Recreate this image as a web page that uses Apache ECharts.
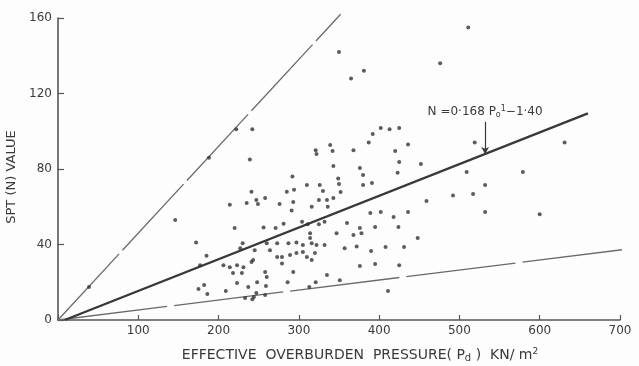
<!DOCTYPE html>
<html>
<head>
<meta charset="utf-8">
<script src="https://cdn.jsdelivr.net/npm/echarts@6/dist/echarts.min.js"></script>
<style>
  html, body { margin: 0; padding: 0; background: #fdfdfd; }
  #chart { width: 639px; height: 366px; }
</style>
</head>
<body>
<div id="chart"></div>
<script>
// Effective overburden pressure (kN/m2) of each test
const pressure = [
  222, 242, 188, 239, 146, 321, 322, 292, 241, 285, 294, 310, 326, 330,
  214, 235, 247, 249, 258, 276, 293, 291, 316, 325, 335,
  220, 256, 271, 281, 304, 311, 325, 332,
  172, 185, 177, 230, 227, 245, 260, 273, 287, 297, 305, 314, 314, 316, 322, 332,
  241, 243, 264, 273, 279, 279, 289, 297, 305, 310, 316, 320,
  206, 214, 223, 231, 218, 229, 258, 260, 293, 335,
  182, 175, 186, 209, 223, 237, 248, 247, 244, 242, 258, 259, 286, 313, 321, 233,
  38.6,
  511, 350, 476, 381, 365, 402, 413, 425, 392, 387, 436, 519, 339, 342, 368, 420,
  343, 376, 425, 452, 380, 423, 509, 579, 349, 350, 380, 391, 532, 352, 343, 336,
  459, 492, 517, 532, 600, 389, 402, 418, 436, 360, 376, 395, 424, 347, 368, 378, 631,
  357, 372, 390, 408, 431, 376, 395, 425, 351, 411, 448
];
// Measured SPT blow count N of each test
const sptN = [
  101, 101, 86, 85, 53, 90, 88, 76, 68, 68, 69, 71.5, 71.5, 68.3,
  61, 62, 63.6, 61.5, 64.6, 61.5, 62.5, 58, 60, 63.6, 63.6,
  48.7, 49, 48.7, 51, 52, 50.7, 50.7, 52,
  41, 34, 29, 40.7, 38, 37, 40.7, 40.7, 40.7, 41, 39.7, 46, 43.4, 40.7, 39.7, 39.7,
  30.7, 31.8, 37, 33.4, 33.4, 30, 34.4, 35.5, 36, 33.4, 31.8, 35.5,
  29, 28, 29, 28, 24.9, 24.9, 25.4, 22.8, 25.4, 23.8,
  18.5, 16.4, 13.8, 15.4, 19.6, 17.5, 20, 14.3, 12.2, 11, 13.2, 18, 20, 17.5, 20, 11.6,
  17.5,
  155, 142, 136, 132, 128, 101.7, 101, 101.7, 98.5, 94, 93, 94, 92.7, 89.5, 90, 89.5,
  81.6, 80.5, 83.7, 82.6, 76.8, 78, 78.4, 78.4, 75, 72, 71.5, 72.6, 71.5, 67.8, 64.6, 60,
  63, 66, 66.8, 57.2, 56, 56.7, 57.2, 54.6, 57.2, 51.4, 48.7, 49.3, 49.3, 46, 45, 46, 94,
  38, 39, 36.6, 38.7, 38.7, 28.6, 29.7, 29, 21, 15.4, 43.4
];

// Regression through the data: N = 0.168 P - 1.40
const regSlope = 0.168;
const regIntercept = -1.40;
const regRange = [8.3, 660];

// Upper and lower envelope lines
const upperEnvelope = [[0, 0], [352, 162]];
const lowerEnvelope = [[0, 0], [725, 38.4]];

// Axis ticks
const xTicks = [0, 100, 200, 300, 400, 500, 600, 700];
const yTicks = [0, 40, 80, 120, 160];

// Arrow from the equation down to the regression line
const arrowX = 532;
const arrowTop = 105;

const points = pressure.map((p, i) => [p, sptN[i]]);
const regLine = regRange.map(p => [p, regSlope * p + regIntercept]);

const ink = '#3a3a3a';
const font = 'DejaVu Sans';

const chart = echarts.init(document.getElementById('chart'), null, { renderer: 'canvas' });

chart.setOption({
  backgroundColor: '#fdfdfd',
  animation: false,
  grid: { left: 58, right: 19, top: 18, bottom: 46, containLabel: false, outerBoundsMode: 'none' },
  xAxis: {
    type: 'value',
    min: xTicks[0],
    max: xTicks[xTicks.length - 1],
    interval: 100,
    name: 'EFFECTIVE  OVERBURDEN  PRESSURE( P{sub|d} )  KN/ m{sup|2}',
    nameLocation: 'middle',
    nameGap: 27,
    nameTextStyle: {
      color: ink, fontFamily: font, fontSize: 14,
      padding: [0, 0, 0, 42],
      rich: {
        sub: { fontSize: 10, verticalAlign: 'bottom', color: ink, fontFamily: font, padding: [6, 0, 0, 0] },
        sup: { fontSize: 9, verticalAlign: 'top', color: ink, fontFamily: font, padding: [0, 0, 6, 0] }
      }
    },
    axisLine: { lineStyle: { color: '#555', width: 1.6 } },
    axisTick: { inside: true, length: 5, lineStyle: { color: '#555', width: 1.2 } },
    axisLabel: { color: ink, fontFamily: font, fontSize: 12, margin: 5,
      formatter: v => (v === 0 ? '' : String(v)) },
    splitLine: { show: false }
  },
  yAxis: {
    type: 'value',
    min: yTicks[0],
    max: yTicks[yTicks.length - 1],
    interval: 40,
    name: 'SPT (N) VALUE',
    nameLocation: 'middle',
    nameRotate: 90,
    nameGap: 27,
    nameTextStyle: { color: ink, fontFamily: font, fontSize: 13, padding: [0, 0, 0, -16] },
    axisLine: { show: true, lineStyle: { color: '#555', width: 1.6 } },
    axisTick: { show: true, inside: true, length: 6, lineStyle: { color: '#555', width: 1.2 } },
    axisLabel: { color: ink, fontFamily: font, fontSize: 12, margin: 6 },
    splitLine: { show: false }
  },
  series: [
    {
      name: 'upper',
      type: 'line',
      data: upperEnvelope,
      symbol: 'none',
      clip: false,
      lineStyle: { color: '#6a6a6a', width: 1.3, type: [90, 5] },
      z: 2
    },
    {
      name: 'lower',
      type: 'line',
      data: lowerEnvelope,
      symbol: 'none',
      clip: false,
      lineStyle: { color: '#6a6a6a', width: 1.3, type: [110, 7] },
      z: 2
    },
    {
      name: 'regression',
      type: 'line',
      data: regLine,
      symbol: 'none',
      lineStyle: { color: '#383838', width: 2.3 },
      z: 3,
      markLine: {
        silent: true,
        symbol: ['none', 'arrow'],
        symbolSize: [6, 7],
        lineStyle: { color: '#383838', width: 1.2, type: 'solid' },
        label: {
          show: true,
          position: 'start',
          distance: 3,
          formatter: 'N =0·168 P{sub|o}{sup|1}−1·40',
          color: ink,
          fontFamily: font,
          fontSize: 12,
          rich: {
            sub: { fontSize: 8, verticalAlign: 'bottom', color: ink, fontFamily: font, padding: [6, 0, 0, 0] },
            sup: { fontSize: 8, verticalAlign: 'top', color: ink, fontFamily: font, padding: [0, 0, 5, 0] }
          }
        },
        data: [[
          { coord: [arrowX, arrowTop] },
          { coord: [arrowX, regSlope * arrowX + regIntercept] }
        ]]
      }
    },
    {
      name: 'SPT',
      type: 'scatter',
      data: points,
      symbol: 'circle',
      symbolSize: 4,
      itemStyle: { color: '#333' },
      z: 4
    }
  ]
});
</script>
</body>
</html>
